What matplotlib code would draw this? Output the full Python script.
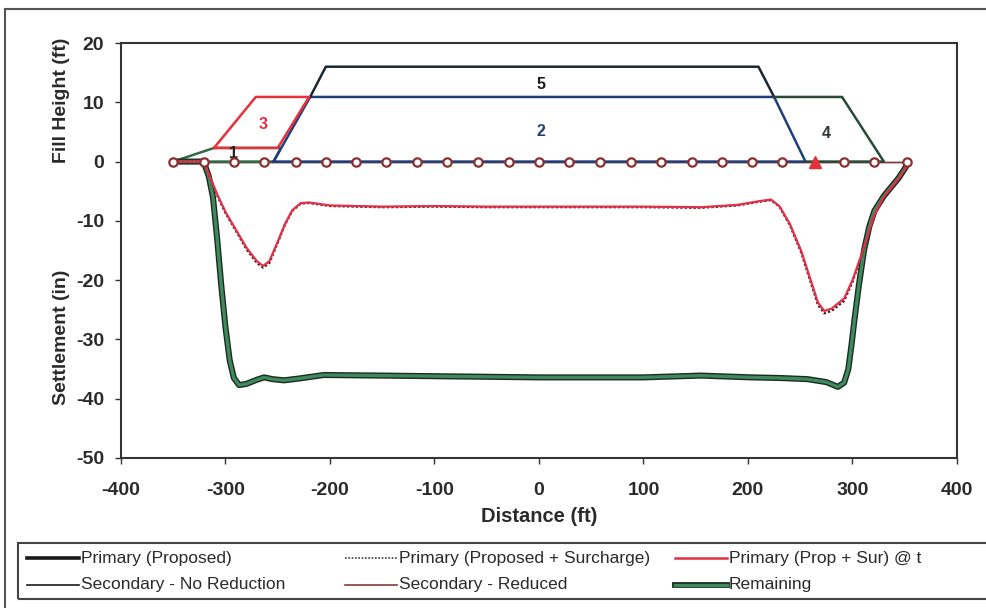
import matplotlib
matplotlib.use("Agg")
import matplotlib.pyplot as plt
import matplotlib.patheffects as pe
from matplotlib.lines import Line2D
from matplotlib.patches import Rectangle

plt.rcParams['font.family'] = ['Liberation Sans', 'DejaVu Sans']
plt.rcParams['axes.unicode_minus'] = False

# ---- settlement profiles (distance in ft, settlement in in) ----
remaining_x = [-350, -321, -316, -312, -308, -304, -300, -296, -292, -287, -280, -270,
               -263, -255, -244, -230, -206, -150, -100, -50, 0, 50, 100, 155, 203,
               230, 257, 275, 286, 292, 296, 299, 302, 306, 311, 316, 321, 330, 337,
               344, 350, 353]
remaining_y = [0, 0, -2.5, -6, -13, -21, -28, -33.5, -36.5, -37.7, -37.5, -36.8,
               -36.4, -36.7, -36.9, -36.6, -36.0, -36.1, -36.2, -36.3, -36.4, -36.4,
               -36.4, -36.1, -36.4, -36.5, -36.7, -37.2, -38.0, -37.3, -35, -31,
               -26.5, -21, -15, -11, -8.3, -5.8, -4.3, -2.8, -1.2, -0.3]
primary_proposed_y = remaining_y

prim_t_x = [-350, -321, -315, -308, -300, -290, -280, -270, -264, -258, -250, -243,
            -236, -228, -220, -200, -150, -100, -50, 0, 50, 100, 155, 190, 210, 222,
            230, 240, 251, 260, 267, 273, 280, 292, 300, 308, 315, 321, 330, 337,
            344, 350, 353]
prim_t_y = [0, 0, -2.5, -5.5, -8.5, -11.5, -14.5, -16.8, -17.6, -16.8, -13.5, -10.5,
            -8.2, -7.0, -6.9, -7.4, -7.6, -7.5, -7.6, -7.6, -7.6, -7.6, -7.7, -7.3,
            -6.7, -6.4, -7.5, -10.5, -15.1, -20.0, -23.8, -25.2, -24.8, -23.1, -20.0,
            -16.0, -12.2, -9.0, -5.9, -4.4, -2.9, -1.3, -0.3]
prim_sur_y = [0, 0, -2.6, -5.7, -8.7, -11.7, -14.8, -17.1, -17.9, -17.1, -13.7, -10.6,
              -8.3, -7.1, -7.0, -7.5, -7.7, -7.6, -7.7, -7.7, -7.7, -7.7, -7.8, -7.4,
              -6.8, -6.5, -7.6, -10.7, -15.4, -20.4, -24.2, -25.6, -25.2, -23.5, -20.3,
              -16.2, -12.4, -9.1, -6.0, -4.5, -3.0, -1.3, -0.3]

# secondary settlement stays at the ground line
secondary_x = [-350, 353]
secondary_none_y = [0, 0]
secondary_red_y = [0, 0]

# calculation points along the ground line
points_x = [-350, -321, -292, -263, -233, -204, -175, -146, -117, -88, -58, -29, 0,
            29, 58, 88, 117, 146, 175, 204, 233, 292, 321, 352]
points_y = [0] * len(points_x)
marker_pt_x = [264]
marker_pt_y = [0]

# ---- fill stages (distance ft, height ft) ----
stage1_x = [-350, -311, -247, -254, -350]
stage1_y = [0, 2.3, 2.3, 0, 0]
stage3_x = [-311, -271, -220, -250, -311]
stage3_y = [2.3, 10.9, 10.9, 2.3, 2.3]
stage2_x = [-254, -219, 225, 255, -254]
stage2_y = [0, 10.9, 10.9, 0, 0]
stage5_x = [-219, -204, 210, 225]
stage5_y = [10.9, 16.0, 16.0, 10.9]
stage4_x = [225, 290, 330, 255]
stage4_y = [10.9, 10.9, 0, 0]

stage_labels = ["1", "2", "3", "4", "5"]
stage_label_x = [-292, 2, -264, 275, 2]
stage_label_y = [1.4, 5.0, 6.2, 4.8, 13.0]
stage_label_colors = ["#222222", "#1f3f7a", "#e0303a", "#2a3a30", "#1a1a1a"]

x_ticks = [-400, -300, -200, -100, 0, 100, 200, 300, 400]
y_ticks = [20, 10, 0, -10, -20, -30, -40, -50]

W, H = 987, 608
fig = plt.figure(figsize=(W / 100, H / 100), dpi=100)
fig.patch.set_facecolor("white")

ax = fig.add_axes([121 / W, 1 - 458 / H, (957 - 121) / W, (458 - 43) / H])
ax.set_xlim(-400, 400)
ax.set_ylim(-50, 20)

# fill stages
ax.plot(stage1_x, stage1_y, color="#2f6b45", lw=1.8, zorder=3)
ax.plot(stage3_x, stage3_y, color="#e8303c", lw=1.8, zorder=4)
ax.plot(stage2_x, stage2_y, color="#1f3f7a", lw=1.8, zorder=3)
ax.plot(stage5_x, stage5_y, color="#1c2535", lw=1.8, zorder=3)
ax.plot(stage4_x, stage4_y, color="#294a38", lw=1.8, zorder=3)
for t, lx, ly, c in zip(stage_labels, stage_label_x, stage_label_y, stage_label_colors):
    ax.text(lx, ly, t, color=c, fontsize=11.5, fontweight="bold",
            ha="center", va="center", zorder=6)

# secondary settlement lines
ax.plot(secondary_x, secondary_none_y, color="#1a1a1a", lw=1.0, zorder=2)
ax.plot(secondary_x, secondary_red_y, color="#8a3a3a", lw=1.0, zorder=2)

# primary / remaining settlement
ax.plot(remaining_x, primary_proposed_y, color="#1c2a22", lw=4.4, zorder=4,
        solid_capstyle="round")
ax.plot(remaining_x, remaining_y, color="#3e8a5c", lw=2.4, zorder=5,
        solid_capstyle="round")
ax.plot(prim_t_x, prim_sur_y, color="#3a1a1a", lw=1.6, ls=(0, (1, 1)), zorder=5)
ax.plot(prim_t_x, prim_t_y, color="#e23048", lw=1.6, zorder=5)

# ground points
ax.plot(points_x, points_y, ls="none", marker="o", ms=6, mfc="white",
        mec="#8b3030", mew=1.6, zorder=7)
ax.plot(marker_pt_x, marker_pt_y, ls="none", marker="^", ms=8.5, mfc="#e8303c",
        mec="#e8303c", zorder=7)

ax.set_xticks(x_ticks)
ax.set_yticks(y_ticks)
ax.tick_params(axis="both", direction="out", length=4, width=1.0, color="#333333",
               labelsize=14, labelcolor="#2a2a2a")
ax.tick_params(axis="x", pad=13)
ax.tick_params(axis="y", pad=8)
for lab in ax.get_xticklabels() + ax.get_yticklabels():
    lab.set_fontweight("bold")
for s in ax.spines.values():
    s.set_color("#333333")
    s.set_linewidth(1.5)

ax.set_xlabel("Distance (ft)", fontsize=14.5, fontweight="bold", color="#2a2a2a",
              labelpad=6)
fig.text(62 / W, 1 - 100 / H, "Fill Height (ft)", rotation=90, fontsize=14,
         fontweight="bold", color="#2a2a2a", ha="center", va="center")
fig.text(62 / W, 1 - 337 / H, "Settlement (in)", rotation=90, fontsize=14,
         fontweight="bold", color="#2a2a2a", ha="center", va="center")

# outer frame
fig.add_artist(Line2D([5 / W, 5 / W], [0, 1 - 9 / H], transform=fig.transFigure,
                      color="#555555", lw=1.5))
fig.add_artist(Line2D([5 / W, 1], [1 - 9 / H, 1 - 9 / H], transform=fig.transFigure,
                      color="#555555", lw=1.5))

# legend box and entries
fig.add_artist(Rectangle((18 / W, 1 - 599 / H), (990 - 18) / W, (599 - 543) / H,
                         transform=fig.transFigure, fill=False, ec="#444444", lw=1.5))

legend_entries = [
    ("Primary (Proposed)", 27, 558, dict(color="#1a1a1a", lw=2.6)),
    ("Primary (Proposed + Surcharge)", 345, 558, dict(color="#3a3a3a", lw=1.2, ls=(0, (1, 1)))),
    ("Primary (Prop + Sur) @ t", 675, 558, dict(color="#e23048", lw=1.8)),
    ("Secondary - No Reduction", 27, 585, dict(color="#1a1a1a", lw=1.2)),
    ("Secondary - Reduced", 345, 585, dict(color="#8a3a3a", lw=1.2)),
    ("Remaining", 675, 585, dict(color="#3e8a5c", lw=2.4,
                                 path_effects=[pe.Stroke(linewidth=4.2, foreground="#1c2a22"),
                                               pe.Normal()])),
]
for label, hx, hy, style in legend_entries:
    fig.add_artist(Line2D([hx / W, (hx + 52) / W], [1 - hy / H, 1 - hy / H],
                          transform=fig.transFigure, **style))
    fig.text((hx + 54) / W, 1 - hy / H, label, fontsize=12.5, color="#2a2a2a",
             ha="left", va="center")

fig.savefig("out.png", dpi=100, facecolor="white")
